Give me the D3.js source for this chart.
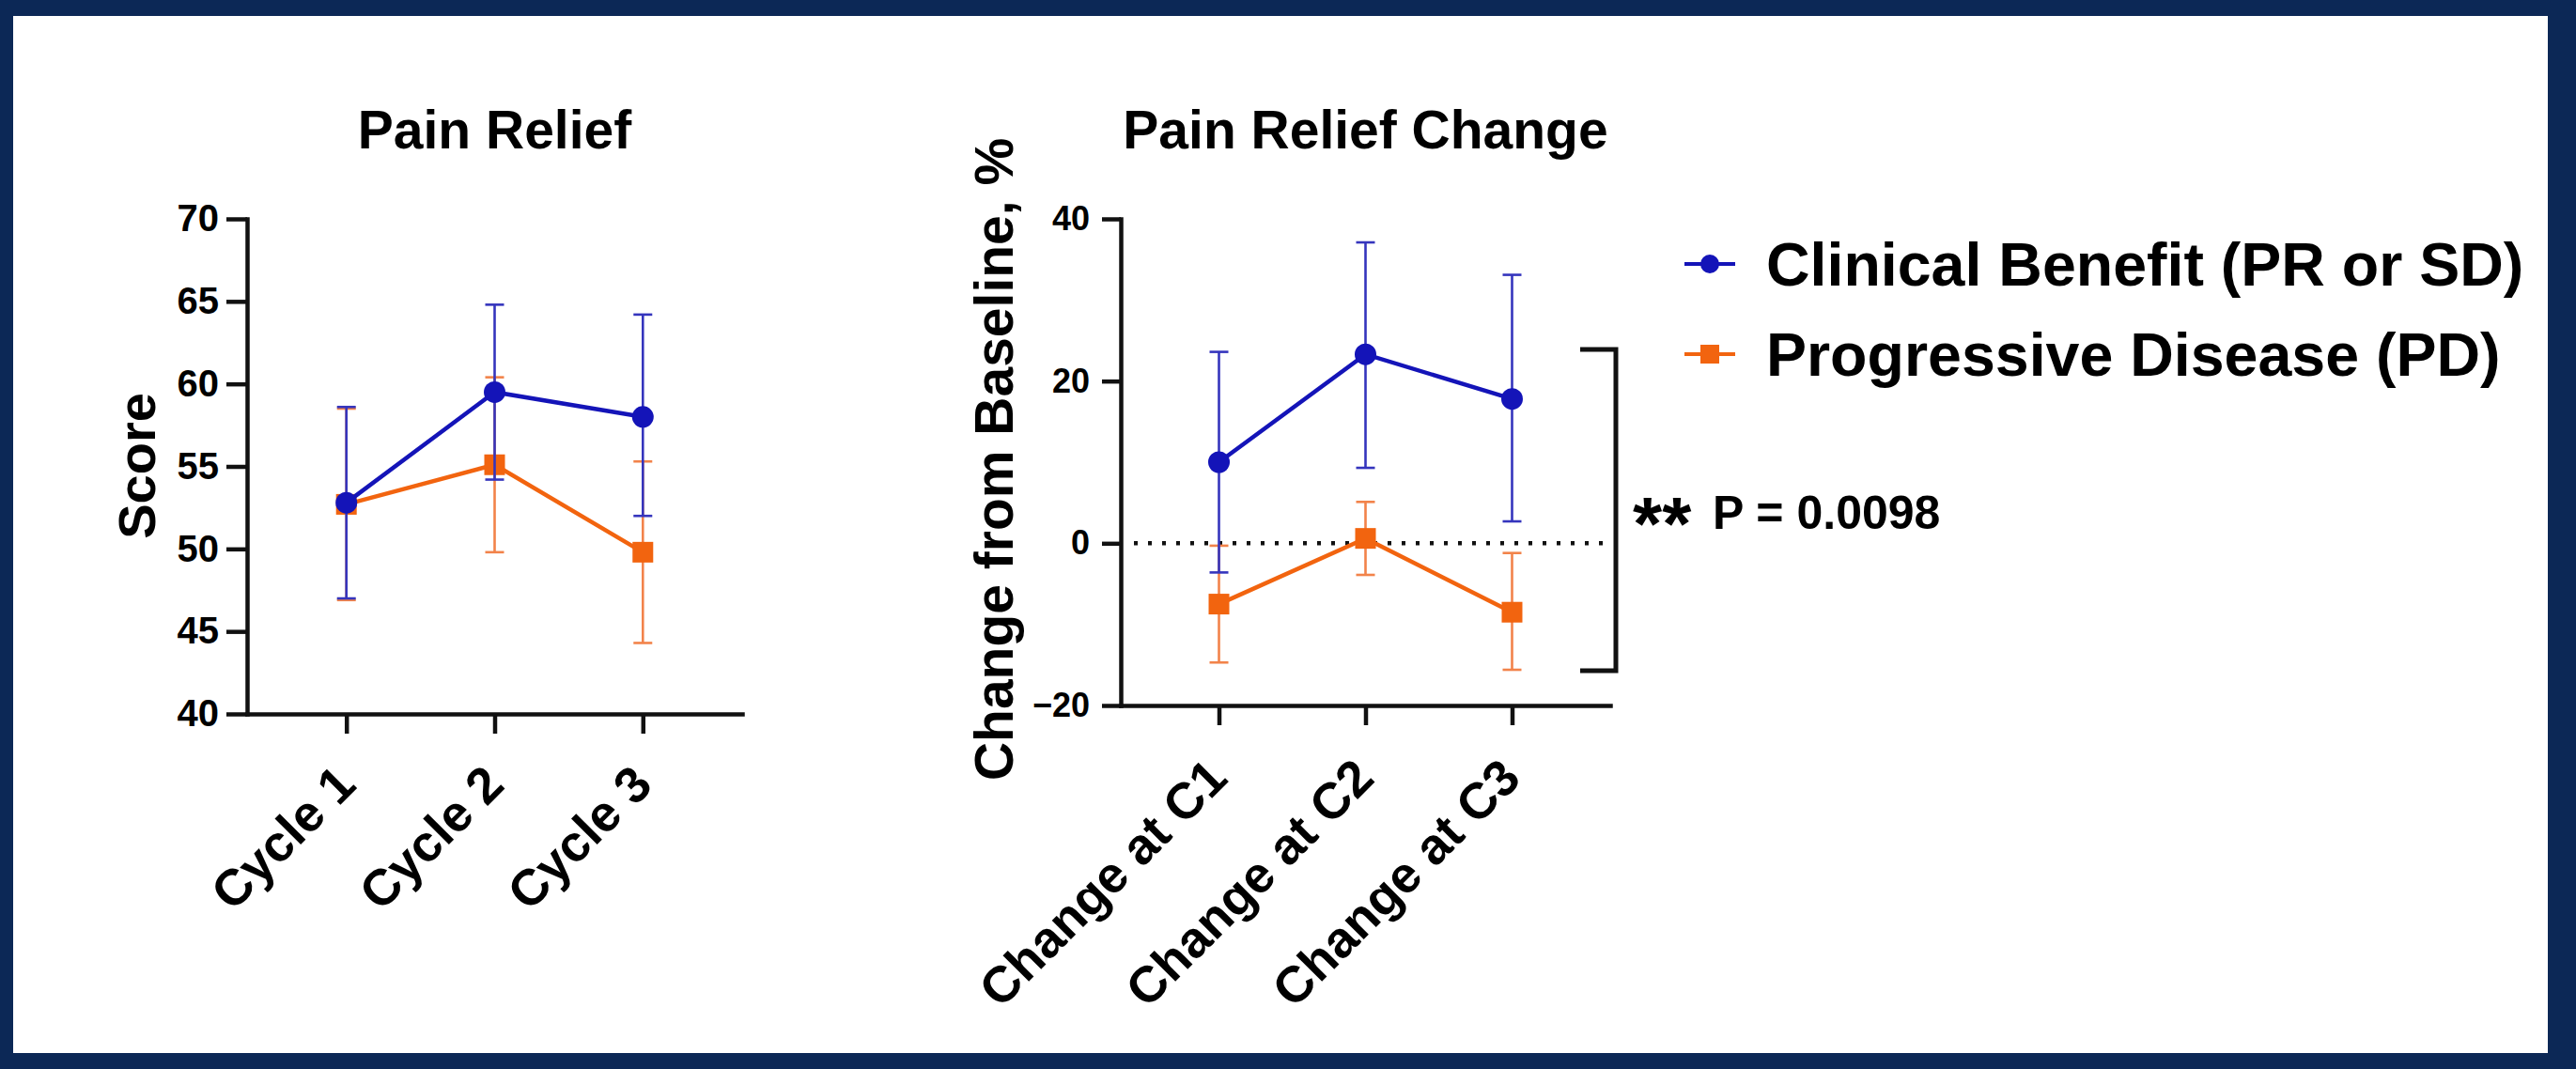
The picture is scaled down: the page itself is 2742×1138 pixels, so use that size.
<!DOCTYPE html>
<html>
<head>
<meta charset="utf-8">
<script src="https://cdn.jsdelivr.net/npm/d3@7"></script>
<style>
  html, body { margin: 0; padding: 0; background: #0c2856; }
  svg { display: block; }
  text { font-family: "Liberation Sans", Arial, Helvetica, sans-serif; font-weight: bold; fill: #000; }
</style>
</head>
<body>
<svg id="fig" width="2742" height="1138"></svg>
<script>
// ---- data ----
const cycles = ["Cycle 1", "Cycle 2", "Cycle 3"];
const changePoints = ["Change at C1", "Change at C2", "Change at C3"];
const seriesNames = ["Clinical Benefit (PR or SD)", "Progressive Disease (PD)"];

// Pain relief score (mean, lower and upper error limits)
const benefitScore   = [52.8, 59.5, 58.0];
const benefitScoreLo = [47.0, 54.2, 52.0];
const benefitScoreHi = [58.6, 64.8, 64.2];
const progScore      = [52.7, 55.1, 49.8];
const progScoreLo    = [46.9, 49.8, 44.3];
const progScoreHi    = [58.5, 60.4, 55.3];

// Change from baseline, %
const benefitChange   = [10.0, 23.3, 17.8];
const benefitChangeLo = [-3.6, 9.3, 2.7];
const benefitChangeHi = [23.6, 37.1, 33.1];
const progChange      = [-7.5, 0.6, -8.5];
const progChangeLo    = [-14.7, -3.9, -15.6];
const progChangeHi    = [-0.3, 5.1, -1.2];

const scoreTicks  = [40, 45, 50, 55, 60, 65, 70];
const changeTicks = [-20, 0, 20, 40];
const bracketSpan = [23.9, -15.7];
const pValueText  = "P = 0.0098";

// ---- style ----
const BLUE = "#1414b8", BLUE_ERR = "#3535bd";
const ORANGE = "#f2640f", ORANGE_ERR = "#f2834a";

const svg = d3.select("#fig");
svg.append("rect").attr("x", 14).attr("y", 17).attr("width", 2698).attr("height", 1104).attr("fill", "#fff");

function panel(cfg) {
  const g = svg.append("g");
  const x = d3.scalePoint().domain(cfg.categories).range([cfg.x0, cfg.x1]).padding(0.67);
  const y = d3.scaleLinear().domain(cfg.domain).range([cfg.yBot, cfg.yTop]);

  // title
  g.append("text").attr("x", (cfg.x0 + cfg.x1) / 2).attr("y", cfg.titleY)
    .attr("text-anchor", "middle").attr("font-size", 57).text(cfg.title);

  // y axis title
  g.append("text")
    .attr("transform", `translate(${cfg.yLabelX},${cfg.yLabelY}) rotate(-90)`)
    .attr("text-anchor", "middle").attr("font-size", cfg.yLabelSize).text(cfg.yLabel);

  // zero reference line
  if (cfg.zeroLine) {
    g.append("line").attr("x1", cfg.x0 + 14).attr("x2", cfg.x1 - 2)
      .attr("y1", y(0)).attr("y2", y(0))
      .attr("stroke", "#111").attr("stroke-width", 4.5).attr("stroke-dasharray", "4 11");
  }

  // axes
  const ya = g.append("g").attr("transform", `translate(${cfg.x0},0)`)
    .call(d3.axisLeft(y).tickValues(cfg.ticks).tickSize(cfg.tickLen).tickSizeOuter(0).tickPadding(cfg.tickPad));
  ya.selectAll("text").attr("font-size", cfg.tickFont).attr("fill", "#000")
    .attr("font-family", '"Liberation Sans", Arial, sans-serif').attr("font-weight", "bold");

  const xa = g.append("g").attr("transform", `translate(0,${cfg.yBot})`)
    .call(d3.axisBottom(x).tickSize(21).tickSizeOuter(0));
  xa.selectAll("text")
    .attr("y", null).attr("dy", null)
    .attr("text-anchor", "end")
    .attr("transform", `translate(${cfg.labelDx},${cfg.labelDy}) rotate(-45)`)
    .attr("font-size", cfg.catFont).attr("fill", "#000")
    .attr("font-family", '"Liberation Sans", Arial, sans-serif').attr("font-weight", "bold");

  [ya, xa].forEach(a => {
    a.select(".domain").attr("stroke", "#111").attr("stroke-width", 4.5).attr("stroke-linecap", "square");
    a.selectAll(".tick line").attr("stroke", "#111").attr("stroke-width", 4.5);
  });

  // series: progressive disease first, clinical benefit on top
  cfg.series.slice().reverse().forEach(s => {
    const sg = g.append("g");
    cfg.categories.forEach((c, i) => {
      const cx = x(c);
      sg.append("line").attr("x1", cx).attr("x2", cx).attr("y1", y(s.lo[i])).attr("y2", y(s.hi[i]))
        .attr("stroke", s.err).attr("stroke-width", 2.6);
      [s.lo[i], s.hi[i]].forEach(v => {
        sg.append("line").attr("x1", cx - 10).attr("x2", cx + 10).attr("y1", y(v)).attr("y2", y(v))
          .attr("stroke", s.err).attr("stroke-width", 2.6);
      });
    });
    sg.append("path")
      .datum(s.mean)
      .attr("d", d3.line().x((d, i) => x(cfg.categories[i])).y(d => y(d)))
      .attr("fill", "none").attr("stroke", s.color).attr("stroke-width", 4.5);
    s.mean.forEach((v, i) => {
      if (s.shape === "circle") {
        sg.append("circle").attr("cx", x(cfg.categories[i])).attr("cy", y(v)).attr("r", 11.5).attr("fill", s.color);
      } else {
        sg.append("rect").attr("x", x(cfg.categories[i]) - 11).attr("y", y(v) - 11)
          .attr("width", 22).attr("height", 22).attr("fill", s.color);
      }
    });
  });
  return { x, y, g };
}

panel({
  title: "Pain Relief", titleY: 158,
  categories: cycles, domain: [40, 70], ticks: scoreTicks,
  x0: 263, x1: 790, yTop: 233, yBot: 760,
  tickFont: 40, tickPad: 8, tickLen: 22,
  catFont: 54, labelDx: 12, labelDy: 78,
  yLabel: "Score", yLabelX: 165, yLabelY: 496, yLabelSize: 56,
  series: [
    { mean: benefitScore, lo: benefitScoreLo, hi: benefitScoreHi, color: BLUE, err: BLUE_ERR, shape: "circle" },
    { mean: progScore, lo: progScoreLo, hi: progScoreHi, color: ORANGE, err: ORANGE_ERR, shape: "square" }
  ]
});

const right = panel({
  title: "Pain Relief Change", titleY: 158,
  categories: changePoints, domain: [-20, 40], ticks: changeTicks,
  x0: 1193, x1: 1714, yTop: 233, yBot: 751,
  tickFont: 36, tickPad: 13, tickLen: 20,
  catFont: 54, labelDx: 11, labelDy: 80,
  yLabel: "Change from Baseline, %", yLabelX: 1078, yLabelY: 489, yLabelSize: 57,
  zeroLine: true,
  series: [
    { mean: benefitChange, lo: benefitChangeLo, hi: benefitChangeHi, color: BLUE, err: BLUE_ERR, shape: "circle" },
    { mean: progChange, lo: progChangeLo, hi: progChangeHi, color: ORANGE, err: ORANGE_ERR, shape: "square" }
  ]
});

// significance bracket between the two groups
const yb0 = right.y(bracketSpan[0]), yb1 = right.y(bracketSpan[1]);
svg.append("path")
  .attr("d", `M1682,${yb0} H1720 V${yb1} H1682`)
  .attr("fill", "none").attr("stroke", "#111").attr("stroke-width", 5);
const yMid = (yb0 + yb1) / 2;
svg.append("text").attr("x", 1738).attr("y", yMid + 42).attr("font-size", 80).text("**");
svg.append("text").attr("x", 1823).attr("y", yMid + 20).attr("font-size", 50).text(pValueText);

// legend
const legend = svg.append("g");
const legendColors = [BLUE, ORANGE];
seriesNames.forEach((name, i) => {
  const ly = 281 + i * 96;
  legend.append("line").attr("x1", 1793).attr("x2", 1847).attr("y1", ly).attr("y2", ly)
    .attr("stroke", legendColors[i]).attr("stroke-width", 4);
  if (i === 0) {
    legend.append("circle").attr("cx", 1820).attr("cy", ly).attr("r", 10).attr("fill", legendColors[i]);
  } else {
    legend.append("rect").attr("x", 1810).attr("y", ly - 10).attr("width", 20).attr("height", 20).attr("fill", legendColors[i]);
  }
  legend.append("text").attr("x", 1880).attr("y", ly + 23).attr("font-size", 64.5).text(name);
});
</script>
</body>
</html>
